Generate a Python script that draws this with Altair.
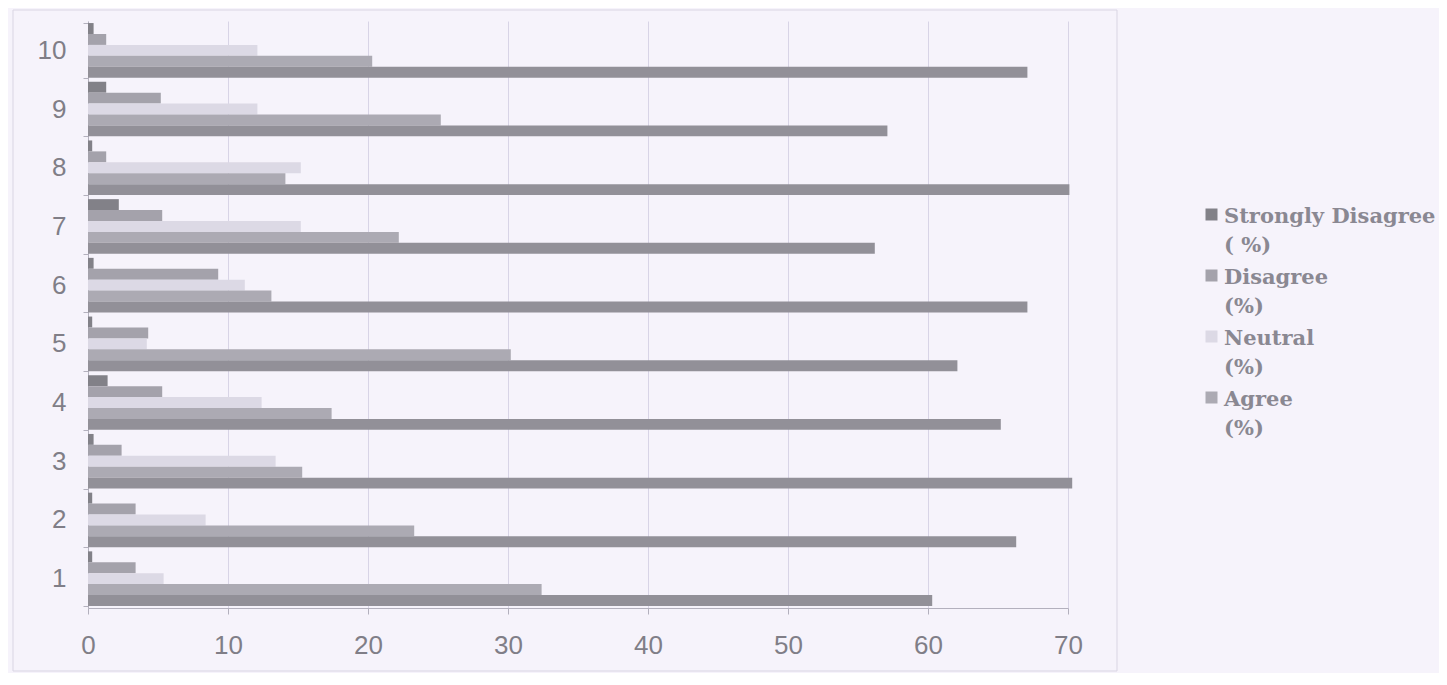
import altair as alt
import pandas as pd

questions = [1, 2, 3, 4, 5, 6, 7, 8, 9, 10]
strongly_agree = [60.3, 66.3, 70.3, 65.2, 62.1, 67.1, 56.2, 70.1, 57.1, 67.1]
agree = [32.4, 23.3, 15.3, 17.4, 30.2, 13.1, 22.2, 14.1, 25.2, 20.3]
neutral = [5.4, 8.4, 13.4, 12.4, 4.2, 11.2, 15.2, 15.2, 12.1, 12.1]
disagree = [3.4, 3.4, 2.4, 5.3, 4.3, 9.3, 5.3, 1.3, 5.2, 1.3]
strongly_disagree = [0.3, 0.3, 0.4, 1.4, 0.3, 0.4, 2.2, 0.3, 1.3, 0.4]

# top-to-bottom order inside each group
series_names = ["Strongly Disagree\n( %)", "Disagree\n(%)", "Neutral\n(%)", "Agree\n(%)", "Strongly Agree\n(%)"]
series_values = [strongly_disagree, disagree, neutral, agree, strongly_agree]
series_colors = ["#828188", "#a4a2ab", "#dcd9e5", "#acaab3", "#929098"]
legend_names = series_names[:4]
x_ticks = [0, 10, 20, 30, 40, 50, 60, 70]

rows = []
for name, vals in zip(series_names, series_values):
    for q, v in zip(questions, vals):
        rows.append({"question": q, "series": name, "value": v})
df = pd.DataFrame(rows)

BG = "#f6f3fb"
LABEL = "#807e87"

bars = alt.Chart(df).mark_bar().encode(
    y=alt.Y(
        "question:O",
        sort="descending",
        scale=alt.Scale(paddingInner=0.07, paddingOuter=0.035),
        axis=alt.Axis(
            title=None, tickBand="extent", tickSize=5, labelPadding=17,
            labelFontSize=26, labelFont="Liberation Sans", labelColor=LABEL,
            domainColor="#b3b0bd", tickColor="#b3b0bd", labelAngle=0,
        ),
    ),
    yOffset=alt.YOffset("series:N", sort=series_names,
                        scale=alt.Scale(paddingInner=0, paddingOuter=0)),
    x=alt.X(
        "value:Q",
        scale=alt.Scale(domain=[0, 70], nice=False),
        axis=alt.Axis(
            title=None, values=x_ticks, grid=True, gridColor="#d8d4e6",
            tickSize=6, labelPadding=18, labelFontSize=26, labelFlush=False,
            labelFont="Liberation Sans", labelColor=LABEL,
            domainColor="#b3b0bd", tickColor="#b3b0bd",
        ),
    ),
    color=alt.Color(
        "series:N",
        scale=alt.Scale(domain=series_names, range=series_colors),
        legend=alt.Legend(
            title=None, values=legend_names, orient="none",
            legendX=1113, legendY=174,
            labelExpr="split(datum.label, '\\n')",
            labelFont="DejaVu Serif", labelFontWeight="bold",
            labelFontSize=21, labelColor="#8a8892", labelBaseline="top",
            labelLimit=400, labelOffset=2,
            symbolType="M-1,0.5H1V2.5H-1Z", symbolSize=144,
            symbolStrokeWidth=0, rowPadding=-13,
        ),
    ),
)

frame = alt.Chart(alt.Data(values=[{"f": 1}])).mark_rect(
    fill=None, stroke="#d9d5e3", strokeWidth=1
).encode(
    x=alt.value(-75), x2=alt.value(1029), y=alt.value(-11), y2=alt.value(650)
)

chart = alt.layer(frame, bars).properties(
    width=980, height=587,
    padding={"left": 80, "top": 13, "right": 371, "bottom": 65},
    autosize=alt.AutoSizeParams(type="none"),
    background=BG,
).configure(
    style={"guide-label": {"lineHeight": 29.5}}
).configure_view(strokeWidth=0, fill=BG)

chart.save("out.html", embed_options={"renderer": "svg", "actions": False})
